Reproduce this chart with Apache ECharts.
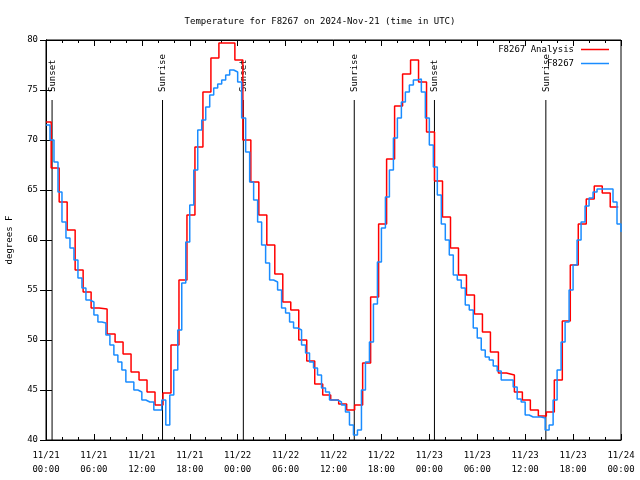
<!DOCTYPE html>
<html><head><meta charset="utf-8">
<script src="https://cdn.jsdelivr.net/npm/echarts@6/dist/echarts.min.js"></script>
<style>html,body{margin:0;padding:0;background:#fff}#c{width:640px;height:480px}</style>
</head><body><div id="c"></div>
<script>
const chartTitle = 'Temperature for F8267 on 2024-Nov-21 (time in UTC)';
const xTickLabels = ['11/21\n00:00','11/21\n06:00','11/21\n12:00','11/21\n18:00','11/22\n00:00','11/22\n06:00','11/22\n12:00','11/22\n18:00','11/23\n00:00','11/23\n06:00','11/23\n12:00','11/23\n18:00','11/24\n00:00'];
const yTicks = [40, 45, 50, 55, 60, 65, 70, 75, 80];
const seriesNames = ['F8267 Analysis', 'F8267'];

// Analysis: hourly values, first held from 00:00, then changing at HH:39
const analysisOffsetHours = 0.65;
const analysisValues = [
 71.8, 67.2, 63.8, 61.0, 57.0, 54.8, 53.2, 53.1, 50.6, 49.8, 48.6, 46.8, 46.0, 44.8, 43.5,
 44.7, 49.5, 56.0, 62.5, 69.3, 74.8, 78.2, 79.7, 79.7, 78.0,
 70.0, 65.8, 62.5, 59.5, 56.6, 53.8, 53.0, 50.0, 47.9, 45.6, 44.5, 44.0, 43.6, 43.0,
 43.5, 47.7, 54.3, 61.6, 68.1, 73.4, 76.6, 78.0, 75.8, 70.8,
 65.9, 62.3, 59.2, 56.5, 54.5, 52.6, 50.8, 48.8, 46.7, 46.5, 44.8, 44.0, 43.0, 42.4,
 42.8, 46.0, 51.9, 57.5, 61.6, 64.1, 65.4, 64.7, 63.3, 63.3
];

// Station observations, every 30 minutes from 11/21 00:00
const stationStepHours = 0.5;
const stationValues = [
 71.5, 70.0, 67.8, 64.8, 61.8, 60.2, 59.2, 58.0, 56.2, 55.2, 54.0, 53.8,
 52.5, 51.8, 51.7, 50.5, 49.5, 48.5, 47.8, 47.0, 45.8, 45.8, 45.0, 44.8,
 44.0, 43.8, 43.8, 43.0, 43.0, 44.0, 41.5, 44.5, 47.0, 51.0, 55.7, 59.8,
 63.5, 67.0, 71.0, 72.0, 73.3, 74.5, 75.2, 75.6, 76.0, 76.5, 77.0, 76.8,
 75.8, 72.2, 68.8, 65.8, 64.0, 61.8, 59.5, 57.7, 56.0, 55.8, 55.0, 53.2,
 52.7, 51.8, 51.2, 51.0, 49.5, 48.7, 47.8, 47.2, 46.5, 45.2, 44.8, 44.0,
 44.0, 43.8, 43.5, 42.8, 41.5, 40.5, 41.0, 45.0, 47.8, 49.8, 53.6, 57.8,
 61.2, 64.3, 67.0, 70.2, 72.2, 73.8, 74.8, 75.5, 76.0, 76.1, 74.8, 72.2,
 69.5, 67.3, 64.5, 61.6, 60.0, 58.5, 56.5, 56.0, 55.2, 53.5, 53.0, 51.2,
 50.2, 49.0, 48.3, 48.0, 47.4, 46.9, 46.0, 46.0, 46.0, 45.3, 44.1, 43.8,
 42.5, 42.3, 42.3, 42.3, 42.2, 41.0, 41.5, 44.0, 47.0, 49.8, 51.8, 55.0,
 57.5, 60.0, 61.8, 63.4, 64.2, 64.8, 65.1, 65.1, 65.1, 65.1, 63.8, 61.6,
 60.8
];

const sunEvents = ['Sunset', 'Sunrise', 'Sunset', 'Sunrise', 'Sunset', 'Sunrise'];
const sunHours = [0.76, 14.59, 24.71, 38.6, 48.64, 62.59];

const FONT = 'DejaVu Sans Mono';

const analysisData = analysisValues.map((v, i) => [i === 0 ? 0 : i - 1 + analysisOffsetHours, v]);
analysisData.push([analysisValues.length - 2 + analysisOffsetHours, analysisValues[analysisValues.length - 1]]);
const stationData = stationValues.map((v, i) => [i * stationStepHours, v]);

const chart = echarts.init(document.getElementById('c'), null, {renderer: 'canvas'});
const tickX = {show: true, inside: true, length: 6, lineStyle: {color: '#000'}};
const minorX = {show: true, splitNumber: 3, length: 3, lineStyle: {color: '#000'}};
chart.setOption({
  animation: false,
  backgroundColor: '#fff',
  title: {text: chartTitle, left: 'center', top: 12,
    textStyle: {fontFamily: FONT, fontSize: 9, fontWeight: 'normal', color: '#000'}},
  legend: {
    data: seriesNames, orient: 'vertical', align: 'right', right: 26, top: 40,
    icon: 'rect', itemWidth: 28, itemHeight: 1.5, itemGap: 5,
    textStyle: {fontFamily: FONT, fontSize: 9, color: '#000', padding: [0, 2, 0, 0]}
  },
  grid: {left: 46, right: 19, top: 40, bottom: 40, containLabel: false, outerBoundsMode: 'none',
    show: true, borderColor: '#000', borderWidth: 1, backgroundColor: 'transparent'},
  xAxis: [{
    type: 'value', min: 0, max: 72, interval: 6,
    axisLine: {show: true, lineStyle: {color: '#000'}},
    axisTick: tickX, minorTick: minorX, splitLine: {show: false},
    axisLabel: {fontFamily: FONT, fontSize: 9, color: '#000', margin: 9, lineHeight: 14,
      formatter: v => xTickLabels[Math.round(v / 6)]}
  }, {
    type: 'value', min: 0, max: 72, interval: 6, position: 'top',
    axisLine: {show: true, lineStyle: {color: '#000'}},
    axisTick: tickX, minorTick: minorX, splitLine: {show: false}, axisLabel: {show: false}
  }],
  yAxis: [{
    type: 'value', min: 40, max: 80, interval: 5,
    name: 'degrees F', nameLocation: 'middle', nameGap: 32, nameRotate: 90,
    nameTextStyle: {fontFamily: FONT, fontSize: 9, color: '#000'},
    axisLine: {show: true, lineStyle: {color: '#000'}},
    axisTick: {show: true, inside: true, length: 6, lineStyle: {color: '#000'}},
    splitLine: {show: false},
    axisLabel: {fontFamily: FONT, fontSize: 9, color: '#000', margin: 8,
      formatter: v => yTicks.includes(v) ? String(v) : ''}
  }, {
    type: 'value', min: 40, max: 80, interval: 5, position: 'right',
    axisLine: {show: true, lineStyle: {color: '#000'}},
    axisTick: {show: true, inside: true, length: 6, lineStyle: {color: '#000'}},
    splitLine: {show: false}, axisLabel: {show: false}
  }],
  series: [
    {
      type: 'custom', name: 'sun', silent: true, z: 1,
      data: sunHours.map(h => [h, 40]),
      encode: {x: 0, y: 1},
      renderItem: function (params, api) {
        const x = api.value(0);
        const p0 = api.coord([x, 40]);
        const p1 = api.coord([x, 74]);
        return {type: 'group', children: [
          {type: 'line', shape: {x1: p0[0], y1: p0[1], x2: p1[0], y2: p1[1]},
           style: {stroke: '#000', lineWidth: 1}},
          {type: 'text', x: p1[0] + 0.5, y: p1[1] - 8, rotation: Math.PI / 2,
           style: {text: sunEvents[params.dataIndex], textAlign: 'left', textVerticalAlign: 'middle',
             font: '9px ' + FONT, fill: '#000'}}
        ]};
      }
    },
    {
      name: seriesNames[0], type: 'line', step: 'end', symbol: 'none', z: 2,
      data: analysisData, color: '#ff0000', lineStyle: {color: '#ff0000', width: 1.5}
    },
    {
      name: seriesNames[1], type: 'line', step: 'end', symbol: 'none', z: 3,
      data: stationData, color: '#1a8cff', lineStyle: {color: '#1a8cff', width: 1.5}
    }
  ]
});
</script></body></html>
